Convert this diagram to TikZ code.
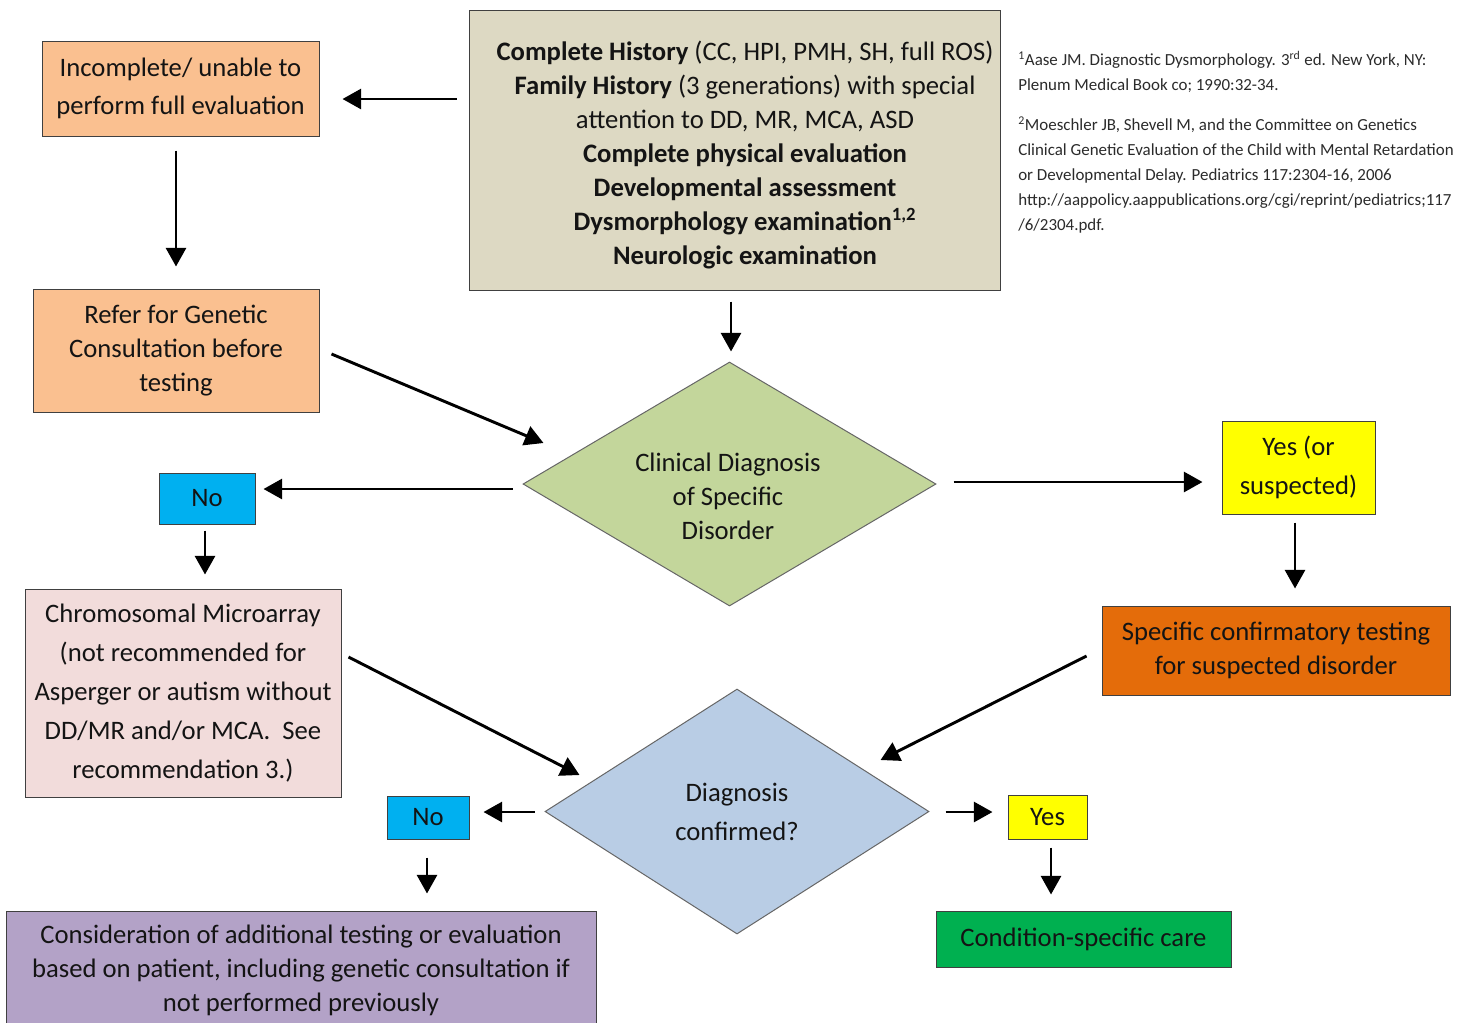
\documentclass[tikz,border=0pt]{standalone}
\usepackage{fontspec}
\setmainfont{Carlito}
\usetikzlibrary{shapes.geometric,arrows.meta,calc}
\definecolor{orangeL}{HTML}{FAC090}
\definecolor{tanbox}{HTML}{DDD9C3}
\definecolor{greenD}{HTML}{C3D69B}
\definecolor{cyanB}{HTML}{00B0F0}
\definecolor{yel}{HTML}{FFFF00}
\definecolor{pinkL}{HTML}{F2DCDB}
\definecolor{orangeD}{HTML}{E46C0A}
\definecolor{blueL}{HTML}{B9CDE5}
\definecolor{greenB}{HTML}{00B050}
\definecolor{purp}{HTML}{B3A2C7}
\definecolor{txt}{HTML}{141414}
\definecolor{reftxt}{HTML}{2B2B2B}
\begin{document}
\begin{tikzpicture}[x=0.75pt,y=-0.75pt,
  box/.style={draw=black!75, line width=0.75pt, rectangle, align=center, inner sep=0pt, text=txt},
  fsA/.style={font=\fontsize{20}{25.5}\selectfont},
  fsB/.style={font=\fontsize{20}{29.25}\selectfont},
  dia/.style={draw=black!60, line width=0.75pt, diamond, aspect=1.7, inner sep=0pt, align=center, text=txt},
  arr/.style={line width=2.2pt, -{Triangle[length=14pt,width=15pt]}},
]
\useasboundingbox (0,0) rectangle (1458,1022);
\fill[white] (0,0) rectangle (1458,1022);

% nodes
\node[box, fill=orangeL, minimum width=207.75pt, minimum height=71.25pt,
  font=\fontsize{20}{28.5}\selectfont] (inc) at (180.5,88.5) {Incomplete/ unable to\\perform full evaluation};
\node[box, fill=tanbox, minimum width=398.25pt, minimum height=210pt] (tan) at (734.5,150) {};
\node[align=center, inner sep=0pt, text=txt, fsA] (tantext) at (745,155)
  {\textbf{Complete History} (CC, HPI, PMH, SH, full ROS)\\
   \textbf{Family History} (3 generations) with special\\
   attention to DD, MR, MCA, ASD\\
   \textbf{Complete physical evaluation}\\
   \textbf{Developmental assessment}\\
   \textbf{Dysmorphology examination\textsuperscript{1,2}}\\
   \textbf{Neurologic examination}};
\node[anchor=base west, align=left, inner sep=0pt, text=reftxt, font=\fontsize{12.7}{18.75}\selectfont] (refs) at (1018,230)
  {\textsuperscript{1}Aase JM. Diagnostic Dysmorphology. 3\textsuperscript{rd} ed. New York, NY:\\
   Plenum Medical Book co; 1990:32-34.\\[11.25pt]
   \textsuperscript{2}Moeschler JB, Shevell M, and the Committee on Genetics\\
   Clinical Genetic Evaluation of the Child with Mental Retardation\\
   or Developmental Delay. Pediatrics 117:2304-16, 2006\\
   http://aappolicy.aappublications.org/cgi/reprint/pediatrics;117\\
   /6/2304.pdf.};
\node[box, fill=orangeL, minimum width=214.5pt, minimum height=92.25pt, fsA] (refer) at (176,350.5)
  {Refer for Genetic\\Consultation before\\testing};
\node[dia, fill=greenD, minimum width=309.75pt, minimum height=183pt] (clin) at (729.5,484) {};
\node[align=center, inner sep=0pt, text=txt, fsA] (clintext) at (728,496)
  {Clinical Diagnosis\\of Specific\\Disorder};
\node[box, fill=cyanB, minimum width=72pt, minimum height=38.25pt, fsA] (no1) at (207,498.5) {No};
\node[box, fill=yel, minimum width=114.75pt, minimum height=69.75pt, fsB] (yes1) at (1298.5,467.5)
  {Yes (or\\suspected)};
\node[box, fill=pinkL, minimum width=237pt, minimum height=156pt, fsB] (chrom) at (183,693)
  {Chromosomal Microarray\\(not recommended for\\Asperger or autism without\\DD/MR and/or MCA.~~See\\recommendation 3.)};
\node[box, fill=orangeD, minimum width=261pt, minimum height=66.75pt, fsA] (spec) at (1276,650.5)
  {Specific confirmatory testing\\for suspected disorder};
\node[dia, fill=blueL, minimum width=288pt, minimum height=183.75pt, fsB] (diag) at (737,811.5)
  {Diagnosis\\confirmed?};
\node[box, fill=cyanB, minimum width=61.5pt, minimum height=32.25pt, fsA] (no2) at (428,817.5) {No};
\node[box, fill=yel, minimum width=59.25pt, minimum height=33pt, fsA] (yes2) at (1047.5,817) {Yes};
\node[box, fill=greenB, minimum width=221.25pt, minimum height=42pt, fsA] (cond) at (1083.5,939)
  {Condition-specific care};
\node[box, fill=purp, minimum width=442.5pt, minimum height=89.25pt, fsA] (cons) at (301,970.5)
  {Consideration of additional testing or evaluation\\based on patient, including genetic consultation if\\not performed previously};

% connectors
\draw[arr] ($(tan.west|-0,99)+(-12,0)$) -- ($(inc.east|-0,99)+(23,0)$);
\draw[arr] ($(inc.south)+(-4.5,14)$) -- ($(refer.north)+(0,-22)$);
\draw[arr] ($(tan.south)+(-3.5,11)$) -- ($(clin.north)+(1.5,-10)$);
\draw[arr] ($(refer.east)+(12,3.5)$) -- ($(clin.west)+(21,-41)$);
\draw[arr] ($(clin.west)+(-10,5)$) -- ($(no1.east)+(8,-9.5)$);
\draw[arr] ($(clin.east)+(17,-2)$) -- ($(yes1.west)+(-19,14.5)$);
\draw[arr] ($(no1.south)+(-2,6)$) -- ($(chrom.north)+(22,-14)$);
\draw[arr] ($(yes1.south)+(-3.5,8)$) -- ($(spec.north)+(19,-17)$);
\draw[arr] ($(chrom.east)+(7,-36)$) -- ($(diag.west)+(35,-36.5)$);
\draw[arr] ($(spec.west)+(-15,5.5)$) -- ($(diag.east)+(-49,-51.5)$);
\draw[arr] ($(diag.west)+(-10,0.5)$) -- ($(no2.east)+(14,-5.5)$);
\draw[arr] ($(diag.east)+(16,0.5)$) -- ($(yes2.west)+(-15,-5)$);
\draw[arr] ($(no2.south)+(-1,18)$) -- ($(cons.north)+(126,-17)$);
\draw[arr] ($(yes2.south)+(3.5,8)$) -- ($(cond.north)+(-32.5,-16)$);
\end{tikzpicture}
\end{document}
